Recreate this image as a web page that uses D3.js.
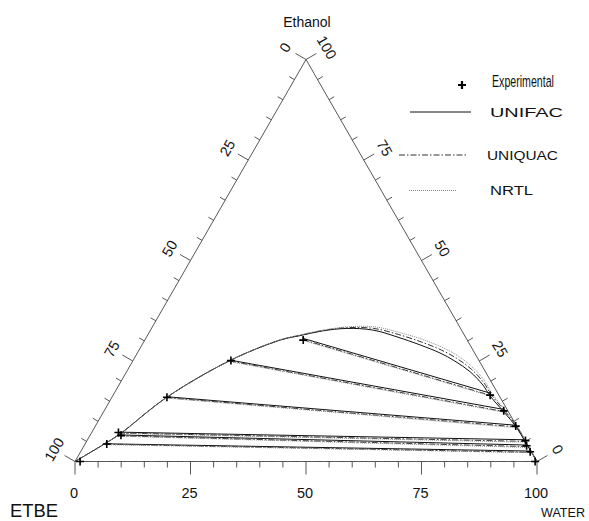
<!DOCTYPE html>
<html>
<head>
<meta charset="utf-8">
<script src="https://d3js.org/d3.v7.min.js"></script>
<style>
  body { margin: 0; background: #fff; }
  div.chart { width: 589px; height: 521px; }
  text { font-family: "Liberation Sans", Arial, sans-serif; fill: #111; }
  .narrow { font-family: "Liberation Sans Narrow", "Arial Narrow", "Liberation Sans", sans-serif; }
</style>
</head>
<body>
<div class="chart"></div>
<script>
// tick values (percent) on each side of the triangle
var tickValues = d3.range(0, 101, 5);
var labelValues = [0, 25, 50, 75, 100];

// experimental tie line ends, [water, ethanol] in mass %
var expLeft  = [[1.1, 0], [4.7, 4.35], [6.7, 6.5], [5.8, 7.2], [11.9, 16.0], [21.2, 25.1], [34.3, 30.2]];
var expRight = [[99.6, 0], [97.3, 2.44], [95.8, 3.9], [94.9, 5.2], [91.0, 8.8], [86.5, 12.6], [81.6, 16.5]];

// binodal curves
var unifacCurve = [[0, 0], [4.4, 4.6], [6.3, 6.84], [11.9, 16.0], [21.1, 25.2], [29.3, 30.2],
  [33.0, 31.3], [37.4, 32.5], [42.3, 33.1], [48.1, 32.7], [54.2, 31.0], [60.2, 29.0], [65.5, 27.0],
  [69.7, 25.0], [74.4, 22.3], [78.8, 19.0], [81.7, 16.3], [86.7, 12.3], [91.2, 8.6], [95.3, 4.6], [100, 0]];
var uniquacCurve = [[0, 0], [4.4, 4.6], [6.3, 6.84], [11.9, 16.0], [21.1, 25.2], [29.3, 30.2],
  [33.0, 31.4], [37.4, 32.6], [42.3, 33.3], [48.1, 33.1], [54.2, 31.6], [60.2, 29.7], [65.5, 27.7],
  [69.7, 25.7], [74.4, 22.9], [78.8, 19.5], [81.7, 16.7], [86.7, 12.6], [91.2, 8.8], [95.3, 4.7], [100, 0]];
var nrtlCurve = [[0, 0], [4.4, 4.6], [6.3, 6.84], [11.9, 16.0], [21.1, 25.2], [29.3, 30.3],
  [33.0, 31.5], [37.4, 32.7], [42.3, 33.5], [48.1, 33.5], [54.2, 32.1], [60.2, 30.3], [65.5, 28.3],
  [69.7, 26.3], [74.4, 23.4], [78.8, 19.9], [81.7, 17.0], [86.7, 12.8], [91.2, 8.9], [95.3, 4.8], [100, 0]];

// calculated tie lines, [[left end], [right end]]
var unifacTies = [[[1.1, 0], [99.6, 0]], [[4.6, 4.4], [97.2, 2.6]], [[6.4, 6.6], [95.6, 4.1]],
  [[6.0, 7.3], [95.0, 5.4]], [[11.9, 16.1], [91.1, 9.0]], [[21.1, 25.2], [86.6, 12.9]], [[33.8, 30.7], [81.4, 17.0]]];
var uniquacTies = [[[1.0, 0], [99.5, 0]], [[4.5, 4.3], [97.3, 2.3]], [[6.3, 6.4], [95.9, 3.7]],
  [[5.9, 7.1], [95.1, 5.0]], [[11.8, 15.9], [91.3, 8.6]], [[21.0, 25.0], [86.8, 12.4]], [[34.2, 30.3], [81.9, 16.4]]];
var nrtlTies = [[[1.2, 0], [99.4, 0]], [[4.4, 4.2], [97.4, 2.2]], [[6.2, 6.3], [96.0, 3.5]],
  [[5.8, 7.0], [95.2, 4.8]], [[11.7, 15.8], [91.4, 8.4]], [[20.9, 24.9], [87.0, 12.2]], [[34.4, 30.1], [82.1, 16.2]]];

var legendNames = ["Experimental", "UNIFAC", "UNIQUAC", "NRTL"];

function wrapper(){

var svg = d3.select("div.chart")
            .append("svg")
            .attr("width", 589)
            .attr("height", 521);

//scales: horizontal uses water + ethanol/2, vertical uses ethanol
var sx = d3.scaleLinear().domain([0, 100]).range([75, 537]);
var sy = d3.scaleLinear().domain([0, 100]).range([461.5, 59.5]);

function px(d){ return sx(d[0] + d[1] / 2); }
function py(d){ return sy(d[1]); }

var line = d3.line().x(px).y(py);
var curve = d3.line().x(px).y(py).curve(d3.curveCatmullRom.alpha(0.5));

var c30 = Math.cos(Math.PI / 6), s30 = 0.5;

//triangle
svg.append("path")
   .attr("d", line([[0, 0], [100, 0], [0, 100], [0, 0]]))
   .attr("fill", "none")
   .attr("stroke", "#444")
   .attr("stroke-width", 0.9);

var axes = svg.append("g").attr("stroke", "#444").attr("stroke-width", 0.9);

//bottom axis: water
tickValues.forEach(function(v){
  var p = [v, 0];
  var len = v % 25 == 0 ? 13 : 6;
  axes.append("line")
      .attr("x1", px(p)).attr("y1", py(p))
      .attr("x2", px(p)).attr("y2", py(p) + len);
});
svg.selectAll(".blab")
   .data(labelValues)
   .enter()
   .append("text")
     .attr("class", "narrow")
     .attr("x", function(d){ return px([d, 0]) - 1; })
     .attr("y", 498)
     .attr("text-anchor", "middle")
     .attr("font-size", 14.5)
     .text(function(d){ return d; });

//left axis: ETBE (100 at the ETBE corner)
tickValues.forEach(function(v){
  var p = [0, 100 - v];
  var len = v % 25 == 0 ? 12 : 6;
  axes.append("line")
      .attr("x1", px(p)).attr("y1", py(p))
      .attr("x2", px(p) - len * c30).attr("y2", py(p) - len * s30);
});
svg.selectAll(".llab")
   .data(labelValues)
   .enter()
   .append("text")
     .attr("class", "narrow")
     .attr("transform", function(d){
        var p = [0, 100 - d];
        return "translate(" + (px(p) - 24 * c30) + "," + (py(p) - 24 * s30) + ") rotate(-60)";
     })
     .attr("text-anchor", "middle")
     .attr("dy", "0.35em")
     .attr("font-size", 14.5)
     .text(function(d){ return d; });

//right axis: ethanol
tickValues.forEach(function(v){
  var p = [100 - v, v];
  var len = v % 25 == 0 ? 12 : 6;
  axes.append("line")
      .attr("x1", px(p)).attr("y1", py(p))
      .attr("x2", px(p) + len * c30).attr("y2", py(p) - len * s30);
});
svg.selectAll(".rlab")
   .data(labelValues)
   .enter()
   .append("text")
     .attr("class", "narrow")
     .attr("transform", function(d){
        var p = [100 - d, d];
        return "translate(" + (px(p) + 24 * c30) + "," + (py(p) - 24 * s30) + ") rotate(60)";
     })
     .attr("text-anchor", "middle")
     .attr("dy", "0.35em")
     .attr("font-size", 14.5)
     .text(function(d){ return d; });

//component names
svg.append("text").attr("x", 307).attr("y", 27).attr("text-anchor", "middle")
   .attr("font-size", 14).text("Ethanol");
svg.append("text").attr("x", 10).attr("y", 517)
   .attr("font-size", 18).attr("textLength", 48).attr("lengthAdjust", "spacingAndGlyphs").text("ETBE");
svg.append("text").attr("x", 541).attr("y", 517)
   .attr("font-size", 13).attr("textLength", 44).attr("lengthAdjust", "spacingAndGlyphs").text("WATER");

//model styles
var models = [
  {curve: unifacCurve, ties: unifacTies, stroke: "#111", dash: null, width: 1},
  {curve: uniquacCurve, ties: uniquacTies, stroke: "#333", dash: "6,2,1.5,2", width: 1},
  {curve: nrtlCurve, ties: nrtlTies, stroke: "#888", dash: "1,1", width: 1}
];

models.forEach(function(m){
  var g = svg.append("g")
             .attr("fill", "none")
             .attr("stroke", m.stroke)
             .attr("stroke-width", m.width)
             .attr("stroke-dasharray", m.dash);
  g.append("path").attr("d", curve(m.curve));
  g.selectAll(".tie")
   .data(m.ties)
   .enter()
   .append("path")
     .attr("d", function(d){ return line(d); });
});

//experimental points
var cross = "M-4,0H4M0,-4V4";
svg.selectAll(".exp")
   .data(expLeft.concat(expRight))
   .enter()
   .append("path")
     .attr("d", cross)
     .attr("transform", function(d){ return "translate(" + px(d) + "," + py(d) + ")"; })
     .attr("stroke", "#000")
     .attr("stroke-width", 1.6)
     .attr("fill", "none");

//legend
var leg = svg.append("g");
leg.append("path").attr("d", "M-4,0H4M0,-4V4")
   .attr("transform", "translate(462,85)")
   .attr("stroke", "#000").attr("stroke-width", 2.2);
//condensed look: squeeze the text horizontally
leg.append("text").attr("transform", "translate(492,87) scale(0.625,1)")
   .attr("font-size", 17)
   .text(legendNames[0]);

var legRows = [
  {y: 112, x1: 410, x2: 471, x: 490, len: 73, m: models[0]},
  {y: 155, x1: 399, x2: 466, x: 487, len: 71, m: models[1]},
  {y: 190.5, x1: 409, x2: 457, x: 490, len: 43, m: models[2]}
];
legRows.forEach(function(r, i){
  leg.append("line")
     .attr("x1", r.x1).attr("x2", r.x2).attr("y1", r.y).attr("y2", r.y)
     .attr("stroke", r.m.stroke).attr("stroke-width", r.m.width)
     .attr("stroke-dasharray", r.m.dash);
  leg.append("text").attr("x", r.x).attr("y", r.y + 4.5)
     .attr("font-size", 12).attr("textLength", r.len).attr("lengthAdjust", "spacingAndGlyphs")
     .text(legendNames[i + 1]);
});

}
window.onload = wrapper;
</script>
</body>
</html>
